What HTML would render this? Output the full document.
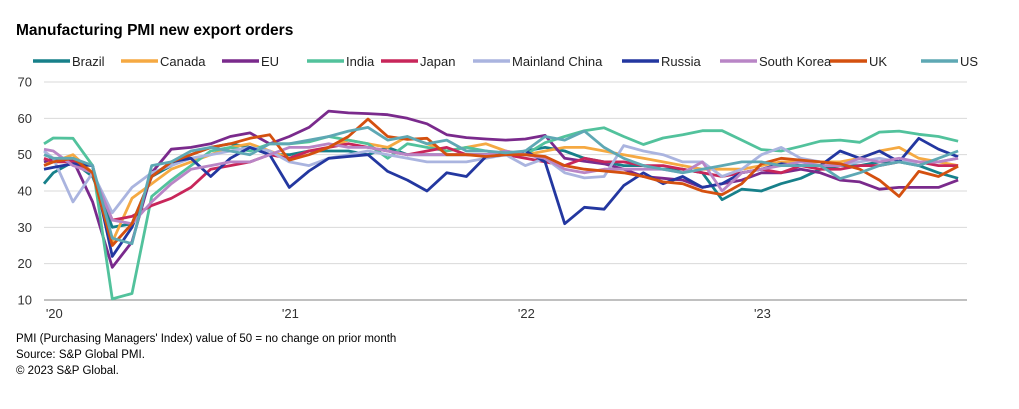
<!DOCTYPE html>
<html><head><meta charset="utf-8"><style>
body{margin:0;background:#fff;font-family:"Liberation Sans",Arial,sans-serif;}
svg text{font-family:"Liberation Sans",Arial,sans-serif;}
</style></head><body>
<svg id="chart" width="1019" height="404" xmlns="http://www.w3.org/2000/svg">
<text x="16" y="35" font-size="15.5" font-weight="bold" fill="#000">Manufacturing PMI new export orders</text>
<g id="legend"></g>
<g id="grid"></g>
<g id="yaxis"></g>
<g id="xaxis"></g>
<g id="series"></g>
<text x="16" y="342" font-size="11.5" fill="#000">PMI (Purchasing Managers' Index) value of 50 = no change on prior month</text>
<text x="16" y="358" font-size="11.5" fill="#000">Source: S&amp;P Global PMI.</text>
<text x="16" y="374" font-size="11.5" fill="#000">© 2023 S&amp;P Global.</text>
</svg>
<script>
const seriesNames=["Brazil","Canada","EU","India","Japan","Mainland China","Russia","South Korea","UK","US"];
const seriesColors=["#17808a","#f5a942","#7a2a8c","#52c29c","#c8265a","#aab4df","#2337a0","#b985c6","#d4500f","#5ea8b4"];
const yTicks=[10,20,30,40,50,60,70];
const xTickLabels=["'20","'21","'22","'23"];
const xTickIndex=[1,13,25,37];
const brazil=[42,45,48,44,30,31,44,47,50,52,53,52,50,50,51,51,51,50,52,50,50,50,50,50,50,51,52,51,49,48,47,47,46,46,45,37.6,40.5,40,42,43.5,46,47,47,48,48,47,45,43.5];
const canada=[48,48,50,45,26,38,42,46,48,50,52,53,51,49,51,52,54,53,52,55,53,51,52,53,51,50,51,52,52,51,50,49,48,47,46,46,46,47,48,48,48,48,49,51,52,49,48,47];
const eu=[48,49,48.5,37,19,26,45,51.5,52,53,55,56,53,55,57.5,62,61.5,61.3,61,60,58.5,55.5,54.7,54.3,54,54.3,55.3,49,48.2,47.5,46,44,43.5,43,41,42,43,45,45,46,45,43,42.5,40.5,41,41,41,43];
const india=[53,54.6,54.5,47,10.3,11.8,38.5,43,47,51,52,51,53,53,53.5,55,54,53,49,53,52,51,52,51,50,50,53.3,55,56.6,57.4,55,52.8,54.6,55.5,56.6,56.6,54,51.4,51,52.3,53.7,54,53.4,56.2,56.5,55.6,55,53.7];
const japan=[49,48,48,45,32,33,36,38,41,46,47,48,50,49,51,52,53,52,51,50,51,52,50,50,50,49,48,47,49,48,48,47,47,46,45,44,45,46,45,47,46,46,47,47,48,48,47,47];
const china=[51,49,37,45,34,41,45,47,49,50,51,52,51,48,47,49,50,51,50,49,48,48,48,49,50,47,49,45,43.6,44,52.5,51,50,48,48,44,46,50,52,49,48,47,48,49,48,48,48,49];
const russia=[46,46.5,47.5,47,22,30,44,48,49,44,49,52,50,41,45.5,49,49.5,50,45.4,43,40,45,44,49.5,50,51,48,31,35.5,35,41.5,45,42,44,41,42,45,46,47.5,47,47,51,49,51,48,54.5,51.5,49.4];
const korea=[51.5,51,47,45,32,31,37,42,46,47,48,48,50,52,52,53,52,52,51,50,50,50,50,50,51,50,49,46,45,46,46,46,46,45,48,40,45,46,47,48,47,47,49,48,49,48,48,49];
const uk=[47,48,49,45,25,31,44,48,50,52,53,54.5,55.5,48.5,50,52,55,59.8,55,54.2,54.5,50,50,49.5,50,50,49.5,47,46,45.5,45,44,42.5,42,40,39,42,47.5,49,48.5,48,47.5,46,43,38.5,45.4,44,46.8];
const us=[50,49,49,47,27,25.5,47,48,51,52,51,50,53,53,54,55,56.5,57.5,54,55,53,54,51,51,50.5,51,55,54,56.5,52,49,47,46,45,46,47,48,48,47,47,47,43.4,45,47,48,47,49,51];
const allSeries=[brazil,canada,eu,india,japan,china,russia,korea,uk,us];

const NS="http://www.w3.org/2000/svg";
const X0=44,X1=53.3,STEP=19.67,XEND=967;
function xs(i){return i===0?X0:X1+STEP*(i-1);}
function ys(v){return 300-(v-10)*(218/60);}
function mk(tag,attrs,parent){const e=document.createElementNS(NS,tag);for(const k in attrs)e.setAttribute(k,attrs[k]);parent.appendChild(e);return e;}
const grid=document.getElementById('grid'),yax=document.getElementById('yaxis'),xax=document.getElementById('xaxis'),ser=document.getElementById('series'),leg=document.getElementById('legend');
yTicks.forEach(t=>{
  const l=mk('line',{x1:X0,x2:XEND,y1:ys(t),y2:ys(t),stroke:t===10?'#9a9a9a':'#d9d9d9','stroke-width':t===10?1.2:1},grid);
  
  
  const tx=mk('text',{x:32,y:ys(t)+4.5,'text-anchor':'end','font-size':13,fill:'#333'},yax);
  tx.textContent=t;
  
  
});
xTickLabels.forEach((lab,k)=>{
  const tx=mk('text',{x:xs(xTickIndex[k])+1,y:318,'text-anchor':'middle','font-size':13,fill:'#333'},xax);
  tx.textContent=lab;
  
  
});
allSeries.forEach((arr,s)=>{
  const pts=arr.map((v,i)=>xs(i).toFixed(1)+','+ys(v).toFixed(1)).join(' ');
  const p=mk('polyline',{points:pts,fill:'none',stroke:seriesColors[s],'stroke-width':2.8,'stroke-linejoin':'round'},ser);
  
  
});
const legX=[33,121,222,307,381,473,622,720,830,921];
seriesNames.forEach((n,s)=>{
  const g=mk('g',{},leg);
  
  
  mk('line',{x1:legX[s],x2:legX[s]+37,y1:61,y2:61,stroke:seriesColors[s],'stroke-width':3.5},g);
  const t=mk('text',{x:legX[s]+39,y:66,'font-size':13,fill:'#222'},g);
  t.textContent=n;
});
</script>
</body></html>
